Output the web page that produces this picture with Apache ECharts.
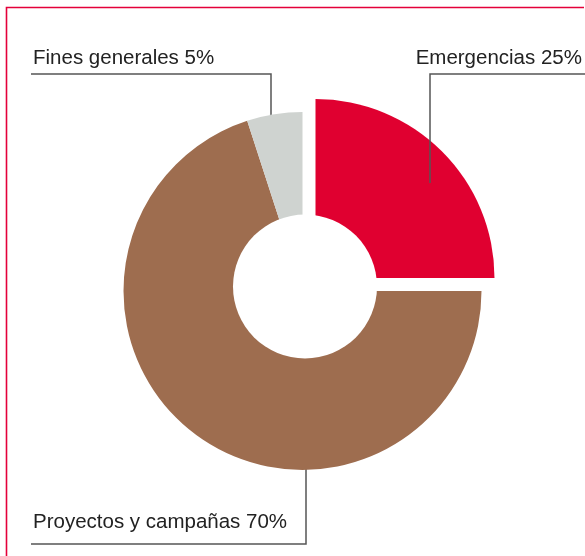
<!DOCTYPE html>
<html>
<head>
<meta charset="utf-8">
<script src="https://cdn.jsdelivr.net/npm/echarts@6/dist/echarts.min.js"></script>
<style>
  html, body { margin: 0; padding: 0; background: #fff; }
  #main { width: 585px; height: 556px; }
</style>
</head>
<body>
<div id="main"></div>
<script>
    // 分类与占比
    const categories = ['Emergencias', 'Proyectos y campañas', 'Fines generales'];
    const values = [25, 70, 5];
    const colors = ['#e00030', '#9e6d4f', '#cfd3d0'];

    // 标签位置 (文字锚点 + 引导线)
    const labelSpots = [
        { x: 582, y: 58, align: 'right', line: [[430, 183], [430, 74], [585, 74]] },
        { x: 33, y: 522, align: 'left', line: [[306, 424], [306, 544], [31, 544]] },
        { x: 33, y: 58, align: 'left', line: [[271, 119], [271, 74], [31, 74]] }
    ];

    const center = [302.5, 291];
    const shift = 13; // 突出扇区的偏移

    let chart = echarts.init(document.getElementById('main'));

    // 主环: 突出的扇区在这里透明, 只保留标签
    let mainData = categories.map(function(name, i) {
        return {
            name: name,
            value: values[i],
            itemStyle: { color: i === 0 ? 'rgba(0,0,0,0)' : colors[i] }
        };
    });

    // 突出的扇区单独画, 圆心向右上偏移
    let restSum = values.slice(1).reduce(function(a, b) { return a + b; }, 0);
    let popData = [
        { name: categories[0], value: values[0], itemStyle: { color: colors[0] } },
        { name: 'rest', value: restSum, itemStyle: { color: 'rgba(0,0,0,0)' } }
    ];

    chart.setOption({
        backgroundColor: '#fff',
        animation: false,
        graphic: [{
            type: 'polyline',
            shape: { points: [[6.5, 556], [6.5, 7.5], [584, 7.5]] },
            style: { stroke: '#e4003a', lineWidth: 1.6, fill: null }
        }, {
            // 中间的白色圆孔, 盖在所有扇区上
            type: 'circle',
            z: 100,
            shape: { cx: 305, cy: 286.5, r: 72 },
            style: { fill: '#fff' }
        }],
        series: [{
            type: 'pie',
            center: center,
            radius: [0, 179],
            startAngle: 90,
            clockwise: true,
            silent: true,
            avoidLabelOverlap: false,
            label: {
                show: true,
                position: 'outside',
                formatter: '{b} {c}%',
                fontFamily: 'Liberation Sans',
                fontSize: 20.5,
                color: '#222'
            },
            labelLine: {
                show: true,
                lineStyle: { color: '#555', width: 1.5 }
            },
            labelLayout: function(params) {
                let s = labelSpots[params.dataIndex];
                return {
                    x: s.x,
                    y: s.y,
                    align: s.align,
                    verticalAlign: 'middle',
                    labelLinePoints: s.line
                };
            },
            data: mainData
        }, {
            type: 'pie',
            center: [center[0] + shift, center[1] - shift],
            radius: [0, 179],
            startAngle: 90,
            clockwise: true,
            silent: true,
            z: 1,
            label: { show: false },
            labelLine: { show: false },
            data: popData
        }]
    });
</script>
</body>
</html>
